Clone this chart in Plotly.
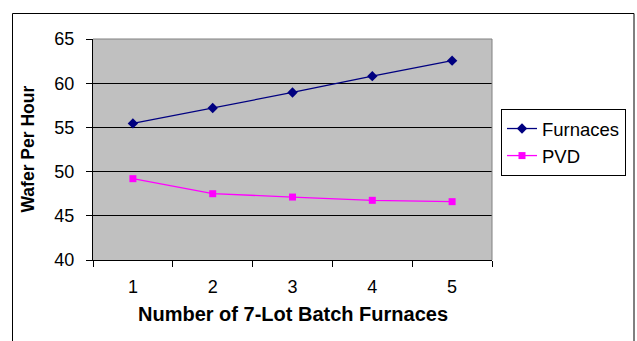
import plotly.graph_objects as go

categories = ["1", "2", "3", "4", "5"]
furnaces = [55.45, 57.2, 58.95, 60.8, 62.55]
pvd = [49.2, 47.5, 47.12, 46.75, 46.6]
y_ticks = [40, 45, 50, 55, 60, 65]

W, H = 637, 341
L, R, T, B = 93, 145, 39, 81
pw, ph = W - L - R, H - T - B

def px(x):
    return (x - L) / pw

def py(y):
    return (H - B - y) / ph

FONT = "Liberation Sans, Arial, sans-serif"

fig = go.Figure()
fig.add_trace(go.Scatter(
    x=categories, y=furnaces, name="Furnaces", mode="lines+markers",
    line=dict(color="#000080", width=1.3),
    marker=dict(symbol="diamond", size=8, color="#000080"),
))
fig.add_trace(go.Scatter(
    x=categories, y=pvd, name="PVD", mode="lines+markers",
    line=dict(color="#FF00FF", width=1.3),
    marker=dict(symbol="square", size=7, color="#FF00FF"),
))

fig.update_layout(
    width=W, height=H,
    margin=dict(l=L, r=R, t=T, b=B, pad=0, autoexpand=False),
    paper_bgcolor="white", plot_bgcolor="#C0C0C0",
    font=dict(family=FONT, color="black", size=18),
    showlegend=True,
    legend=dict(
        x=px(501), y=py(109), xanchor="left", yanchor="top",
        bordercolor="black", borderwidth=1, bgcolor="white",
        font=dict(family=FONT, size=18.5, color="black"),
        itemwidth=30, tracegroupgap=0,
    ),
    xaxis=dict(
        type="category", range=[-0.5, 4.5], tickson="boundaries",
        ticks="outside", ticklen=6, tickcolor="black", tickwidth=1,
        showline=True, linecolor="black", linewidth=1,
        showgrid=False, zeroline=False,
        tickfont=dict(family=FONT, size=18),
        ticklabelstandoff=10, automargin=False,
    ),
    yaxis=dict(
        range=[40, 65], tickvals=y_ticks,
        ticks="outside", ticklen=6, tickcolor="black", tickwidth=1,
        showline=True, linecolor="black", linewidth=1,
        showgrid=True, gridcolor="black", gridwidth=1, zeroline=False,
        tickfont=dict(family=FONT, size=18),
        ticklabelstandoff=8, automargin=False,
    ),
    annotations=[
        dict(text="<b>Number of 7-Lot Batch Furnaces</b>", xref="paper", yref="paper",
             x=0.5, y=py(314), xanchor="center", yanchor="middle", showarrow=False,
             font=dict(family=FONT, size=20, color="black")),
        dict(text="<b>Wafer Per Hour</b>", xref="paper", yref="paper",
             x=px(27), y=0.5, xanchor="center", yanchor="middle", showarrow=False,
             textangle=-90, font=dict(family=FONT, size=17.5, color="black")),
    ],
    shapes=[
        dict(type="line", xref="paper", yref="paper", x0=0, x1=1, y0=1, y1=1,
             line=dict(color="#808080", width=1), layer="above"),
        dict(type="line", xref="paper", yref="paper", x0=1, x1=1, y0=0, y1=1,
             line=dict(color="#808080", width=1), layer="above"),
        dict(type="rect", xref="paper", yref="paper",
             x0=px(12.5), x1=px(634), y0=py(345), y1=py(13.5),
             line=dict(color="black", width=1), fillcolor="rgba(0,0,0,0)", layer="above"),
    ],
)

fig.write_html("out.html")
